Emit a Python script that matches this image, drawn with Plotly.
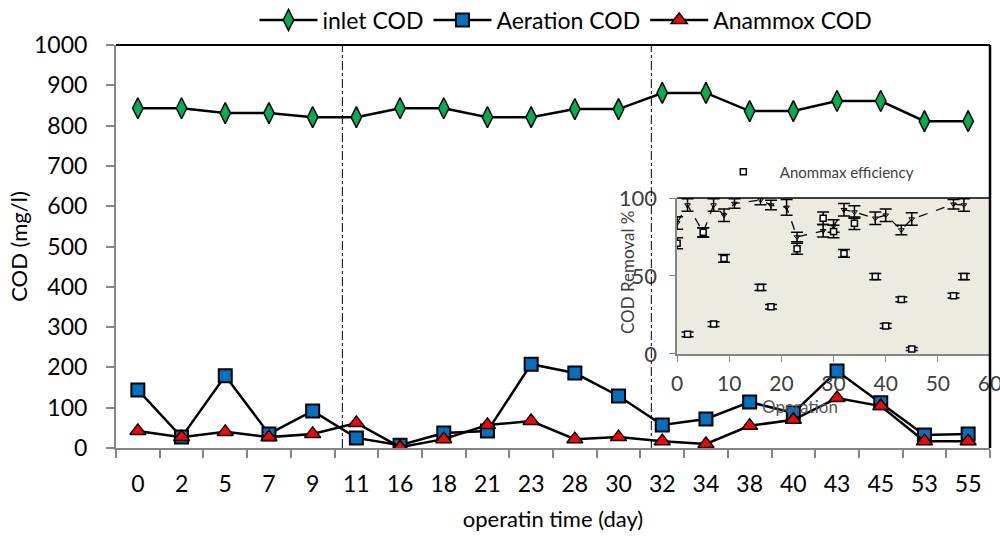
import plotly.graph_objects as go

days = ["0", "2", "5", "7", "9", "11", "16", "18", "21", "23", "28", "30", "32", "34", "38", "40", "43", "45", "53", "55"]
inlet_cod = [843, 843, 831, 831, 821, 821, 843, 843, 821, 821, 841, 841, 881, 881, 836, 836, 861, 861, 811, 811]
aeration_cod = [144, 27, 179, 35, 92, 25, 7, 37, 42, 208, 186, 129, 57, 72, 114, 87, 191, 112, 32, 35]
anammox_cod = [42, 27, 40, 27, 35, 62, 2, 22, 57, 67, 22, 27, 17, 10, 55, 70, 124, 104, 17, 17]

# inset data
inset_days = [0, 2, 5, 7, 9, 11, 16, 18, 21, 23, 28, 30, 32, 34, 38, 40, 43, 45, 53, 55]
anammox_eff = [71, 12.6, 78, 19.2, 61.3, None, 42.7, 30.3, None, 67.5, 87, 78.5, 64.5, 83.8, 49.6, 18, 35, 3.2, 37.4, 49.6]
anammox_eff_err = [3.5, 1.5, 3, 1.5, 2.5, 0, 2, 1.5, 0, 3.5, 4, 4, 2.5, 4, 2, 1.5, 1.5, 1, 1.5, 2]
total_eff = [84, 95.5, 78, 95.5, 89, 96.5, 98.7, 95.5, 94, 75, 79, 82, 92.5, 91, 87, 89, 79.5, 86.5, 96, 95.5]
total_eff_err = [4, 4, 3, 4, 4, 3, 3, 3, 5, 3, 4, 4, 4, 4, 4, 4, 3, 4, 3, 4]

divider_positions = [4.68, 11.75]

FONT = "Lato"
GREY = "#868686"

fig = go.Figure()

fig.add_trace(go.Scatter(
    x=days, y=inlet_cod, name="inlet COD", mode="lines+markers",
    line=dict(color="black", width=2.5),
    marker=dict(symbol="diamond-tall", size=15, color="#00B050", line=dict(color="black", width=1.5)),
))
fig.add_trace(go.Scatter(
    x=days, y=aeration_cod, name="Aeration COD", mode="lines+markers",
    line=dict(color="black", width=2.5),
    marker=dict(symbol="square", size=13, color="#0070C0", line=dict(color="black", width=2)),
))
fig.add_trace(go.Scatter(
    x=days, y=anammox_cod, name="Anammox COD", mode="lines+markers",
    line=dict(color="black", width=2.5),
    marker=dict(symbol="triangle-up", size=14, color="#FF0000", line=dict(color="black", width=1.5)),
))

# inset traces
fig.add_trace(go.Scatter(
    x=inset_days, y=total_eff, xaxis="x2", yaxis="y2", mode="lines+markers",
    showlegend=False, connectgaps=True,
    line=dict(color="black", width=1.3, dash="dash"),
    marker=dict(symbol="triangle-down-open", size=5, color="black", line=dict(width=1)),
    error_y=dict(type="data", array=total_eff_err, color="black", thickness=1.5, width=6),
))
fig.add_trace(go.Scatter(
    x=inset_days, y=anammox_eff, xaxis="x2", yaxis="y2", mode="markers",
    name="Anommax efficiency", legend="legend2",
    marker=dict(symbol="square", size=6, color="white", line=dict(color="black", width=1.5)),
    error_y=dict(type="data", array=anammox_eff_err, color="black", thickness=1.5, width=6),
))

shapes = []
# inset background + top border
shapes.append(dict(type="rect", xref="x2 domain", yref="y2 domain", x0=0, x1=1, y0=0, y1=1,
                   fillcolor="#EDEAE0", line=dict(width=0), layer="below"))
shapes.append(dict(type="line", xref="x2 domain", yref="y2 domain", x0=0, x1=1, y0=1, y1=1,
                   line=dict(color="black", width=1.5)))
for xp in divider_positions:
    shapes.append(dict(type="line", xref="x", yref="paper", x0=xp, x1=xp, y0=0, y1=1,
                       line=dict(color="black", width=1, dash="dashdot")))
# main border top/right
shapes.append(dict(type="line", xref="paper", yref="paper", x0=0, x1=1, y0=1, y1=1,
                   line=dict(color="black", width=2)))
shapes.append(dict(type="line", xref="paper", yref="paper", x0=1, x1=1, y0=0, y1=1,
                   line=dict(color="black", width=2.5)))

annotations = [
    dict(text="Operation", xref="paper", yref="paper", x=(800 - 116) / 874, y=(448 - 406) / 403,
         showarrow=False, font=dict(size=17, color="#595959", family=FONT), xanchor="center", yanchor="middle"),
    dict(text="COD Removal %", xref="paper", yref="paper", x=(627 - 116) / 874, y=(448 - 272) / 403,
         showarrow=False, textangle=-90, font=dict(size=17, color="#404040", family=FONT),
         xanchor="center", yanchor="middle"),
]

fig.update_layout(
    width=1000, height=539,
    margin=dict(l=116, r=10, t=45, b=91, autoexpand=False),
    plot_bgcolor="rgba(0,0,0,0)", paper_bgcolor="white",
    font=dict(family=FONT, size=23, color="black"),
    shapes=shapes,
    annotations=annotations,
    showlegend=True,
    legend=dict(orientation="h", x=0.566, xref="container", xanchor="center",
                y=1 - 20 / 539, yref="container", yanchor="middle",
                font=dict(size=23, family=FONT), bgcolor="rgba(0,0,0,0)", itemwidth=58,
                tracegroupgap=0),
    legend2=dict(x=0.676, xanchor="left", y=0.685, yanchor="middle", itemwidth=63,
                 font=dict(size=15, family=FONT, color="#404040"), bgcolor="rgba(0,0,0,0)"),
    xaxis=dict(
        type="category", range=[-0.5, 19.5], showline=True, linecolor=GREY, linewidth=2,
        ticks="outside", tickson="boundaries", ticklen=8, tickcolor=GREY, tickwidth=2,
        showgrid=False, zeroline=False, automargin=False, ticklabelstandoff=14,
        tickfont=dict(size=23), domain=[0, 1],
        title=dict(text="operatin time (day)", font=dict(size=22), standoff=16),
    ),
    yaxis=dict(
        range=[0, 1000], dtick=100, showline=True, linecolor=GREY, linewidth=2,
        ticks="outside", ticklen=8, tickcolor=GREY, tickwidth=2, automargin=False,
        ticklabelstandoff=14,
        showgrid=False, zeroline=False, tickfont=dict(size=23),
        title=dict(text="COD (mg/l)", font=dict(size=22), standoff=0),
    ),
    xaxis2=dict(
        domain=[0.642, 1.0], anchor="y2", range=[0, 60], dtick=10, automargin=False,
        showline=True, linecolor=GREY, linewidth=1.5, ticks="outside", ticklen=6, tickcolor=GREY,
        ticklabelstandoff=4, ticklabeloverflow="allow",
        showgrid=False, zeroline=False, tickfont=dict(size=21, color="#404040"),
    ),
    yaxis2=dict(
        domain=[0.2333, 0.6203], anchor="x2", range=[0, 100], dtick=50, automargin=False,
        showline=True, linecolor=GREY, linewidth=1.5, ticks="outside", ticklen=6, tickcolor=GREY,
        ticklabelstandoff=8,
        showgrid=False, zeroline=False, tickfont=dict(size=22, color="#404040"),
    ),
)

fig.write_html("out.html", config={"displayModeBar": False},
               post_script="document.body.style.margin='0px';")
